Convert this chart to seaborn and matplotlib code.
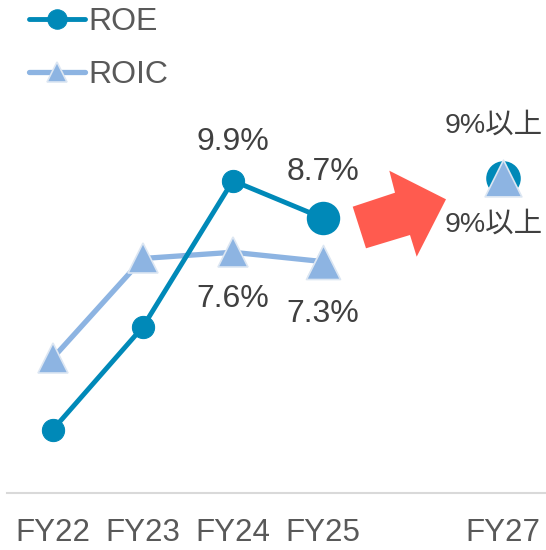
import matplotlib
matplotlib.use("Agg")
import matplotlib.pyplot as plt
import seaborn as sns
import pandas as pd
from matplotlib.patches import Polygon

# ---- data ----
categories = ["FY22", "FY23", "FY24", "FY25", "", "FY27"]
hist_years = ["FY22", "FY23", "FY24", "FY25"]
roe = [1.9, 5.2, 9.9, 8.7]
roic = [4.2, 7.4, 7.6, 7.3]
target_year = "FY27"
target_value = 10.0          # plotted height of the FY27 marker
target_label = "9%以上"
roe_labels = {"FY24": "9.9%", "FY25": "8.7%"}
roic_labels = {"FY24": "7.6%", "FY25": "7.3%"}

sns.set_theme(style="white")
plt.rcParams["font.family"] = ["Liberation Sans", "Noto Sans CJK JP", "DejaVu Sans"]

ROE_C = "#0089B8"
ROIC_C = "#8DB4E2"
TXT = "#404040"

pos = {c: i for i, c in enumerate(categories)}
df = pd.DataFrame({
    "x": [pos[c] for c in hist_years],
    "ROE": roe,
    "ROIC": roic,
})

fig = plt.figure(figsize=(5.46, 5.5), dpi=100)
ax = fig.add_axes([7 / 546, 57 / 550, 539 / 546, 493 / 550])

sns.lineplot(data=df, x="x", y="ROIC", ax=ax, color=ROIC_C, linewidth=3.8,
             marker="^", markersize=21, markeredgecolor="#dce6f2",
             markeredgewidth=1.2, label="ROIC", zorder=3)
sns.lineplot(data=df, x="x", y="ROE", ax=ax, color=ROE_C, linewidth=3.5,
             marker="o", markersize=16, markeredgecolor=ROE_C,
             label="ROE", zorder=4)

# larger FY25 markers
last = df.iloc[[-1]]
sns.scatterplot(data=last, x="x", y="ROE", ax=ax, color=ROE_C, s=580,
                marker="o", edgecolor=ROE_C, linewidth=0, zorder=5, legend=False)
sns.scatterplot(data=last, x="x", y="ROIC", ax=ax, color=ROIC_C, s=600,
                marker="^", edgecolor="#dce6f2", linewidth=1.2, zorder=5, legend=False)

# FY27 target markers
tdf = pd.DataFrame({"x": [pos[target_year]], "y": [target_value]})
sns.scatterplot(data=tdf, x="x", y="y", ax=ax, color=ROE_C, s=620, marker="o",
                edgecolor=ROE_C, linewidth=0, zorder=5, legend=False)
sns.scatterplot(data=tdf, x="x", y="y", ax=ax, color=ROIC_C, s=700, marker="^",
                edgecolor="#dce6f2", linewidth=1.2, zorder=6, legend=False)

# value labels
fs = 23
for yr, lab in roe_labels.items():
    v = roe[hist_years.index(yr)]
    off = 39 if yr == "FY24" else 46
    ax.annotate(lab, (pos[yr], v), xytext=(0, off), textcoords="offset pixels",
                ha="center", va="center", fontsize=fs, color=TXT)
for yr, lab in roic_labels.items():
    v = roic[hist_years.index(yr)]
    off = -47 if yr == "FY24" else -52
    ax.annotate(lab, (pos[yr], v), xytext=(0, off), textcoords="offset pixels",
                ha="center", va="center", fontsize=fs, color=TXT)
ax.annotate(target_label, (pos[target_year], target_value), xytext=(-9, 52),
            textcoords="offset pixels", ha="center", va="center", fontsize=20.5, color=TXT)
ax.annotate(target_label, (pos[target_year], target_value), xytext=(-9, -47),
            textcoords="offset pixels", ha="center", va="center", fontsize=20.5, color=TXT)

# red arrow (decorative shape, figure pixel coords)
pts = [(352.7, 206.7), (395, 192.7), (389.3, 170.7), (446, 199.3),
       (416.7, 256.7), (410, 235), (366, 248.3)]
arrow = Polygon([(x / 546, 1 - y / 550) for x, y in pts], closed=True,
                transform=fig.transFigure, facecolor="#FF5B4F", edgecolor="none",
                zorder=2)
fig.patches.append(arrow)

ax.set_xlim(-0.51, 5.48)
ax.set_ylim(-0.14, 15.71)
ax.set_xticks(range(len(categories)))
ax.set_xticklabels(categories)
ax.set_yticks([])
ax.set_xlabel("")
ax.set_ylabel("")
ax.tick_params(axis="x", length=0, pad=18, labelsize=22.5, labelcolor="#595959")
for s in ["top", "right", "left"]:
    ax.spines[s].set_visible(False)
ax.spines["bottom"].set_color("#d9d9d9")
ax.spines["bottom"].set_linewidth(1.5)

h, l = ax.get_legend_handles_labels()
order = [l.index("ROE"), l.index("ROIC")]
leg = ax.legend([h[i] for i in order], [l[i] for i in order],
                loc="upper left", bbox_to_anchor=(29 / 546, 1 - 7 / 550),
                bbox_transform=fig.transFigure, frameon=False, fontsize=23,
                handlelength=1.75, handletextpad=0.12, labelspacing=0.72,
                borderpad=0, borderaxespad=0, markerscale=1.0)
for t in leg.get_texts():
    t.set_color("#595959")
for lh in leg.legend_handles:
    lh.set_markersize(14)

fig.savefig("out.png", dpi=100)
